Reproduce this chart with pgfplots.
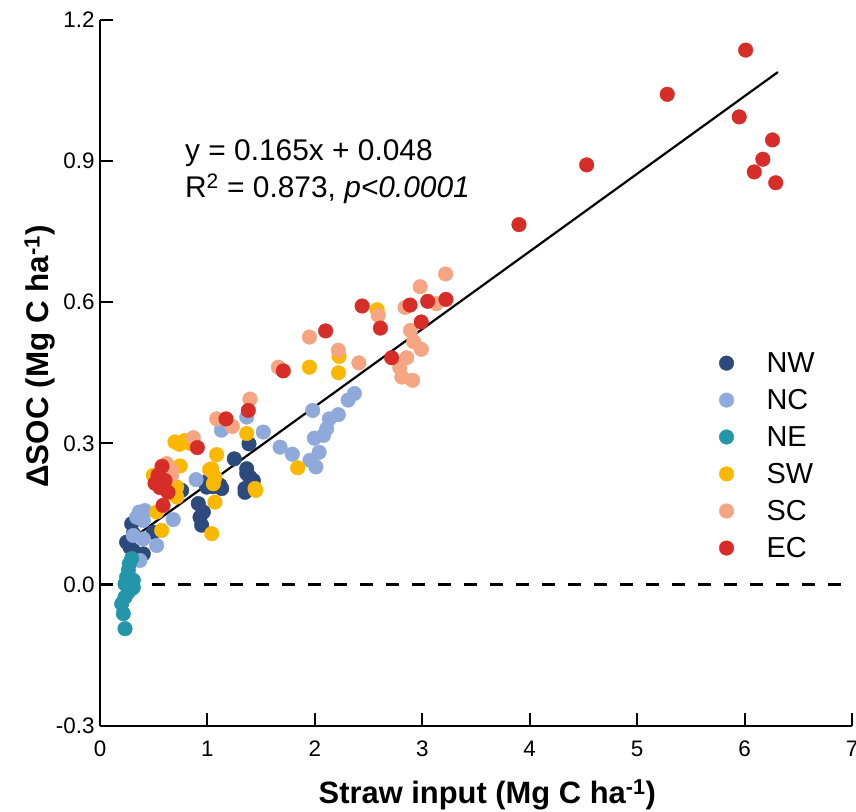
\documentclass[border=0pt]{standalone}
\usepackage{fontspec}
\setmainfont{Liberation Sans}
\usepackage{pgfplots}
\pgfplotsset{compat=1.18}
\definecolor{cNW}{RGB}{44,74,124}
\definecolor{cNC}{RGB}{143,170,218}
\definecolor{cNE}{RGB}{35,150,170}
\definecolor{cSW}{RGB}{250,185,0}
\definecolor{cSC}{RGB}{245,165,130}
\definecolor{cEC}{RGB}{215,45,40}
\begin{document}
\begin{tikzpicture}
\begin{axis}[
  width=752bp, height=705.6bp, scale only axis,
  xmin=0, xmax=7, ymin=-0.3, ymax=1.2,
  axis lines=left, axis line style={-, line width=2bp, black},
  xtick={0,1,2,3,4,5,6,7}, xticklabels={0,1,2,3,4,5,6,7},
  ytick={-0.3,0,0.3,0.6,0.9,1.2}, yticklabels={-0.3,0.0,0.3,0.6,0.9,1.2},
  tick align=inside, major tick length=13bp,
  tick style={line width=2bp, black},
  tick label style={font=\fontsize{22.5}{26}\selectfont, black},
  xticklabel style={yshift=-12bp},
  yticklabel style={xshift=-2bp},
  xlabel={\textbf{Straw input (Mg C ha\textsuperscript{-1})}},
  ylabel={\textbf{ΔSOC (Mg C ha\textsuperscript{-1})}},
  xlabel style={font=\fontsize{31}{36}\selectfont, at={(axis description cs:0.515,-0.098)}, anchor=center},
  ylabel style={font=\fontsize{31.5}{36}\selectfont, at={(axis description cs:-0.08,0.523)}, anchor=center},
  legend style={at={(axis cs:5.728,0.50)}, anchor=north west, draw=none, fill=none,
    font=\fontsize{29}{34}\selectfont, row sep=13.4bp, nodes={inner sep=1bp}},
  legend cell align=left,
  legend image code/.code={\path[draw=none, fill=none] (-8bp,0bp) rectangle (39bp,0.1bp); \draw[#1] plot coordinates {(0bp,0bp)};},
  clip=false,
]
\coordinate (BL) at (rel axis cs:0,0);
\coordinate (TR) at (rel axis cs:1,1);
\addplot[forget plot, black, line width=2.2bp, dash pattern=on 13bp off 13bp] coordinates {(0,0) (7,0)};
\addplot[only marks, mark=*, mark size=7.3bp, color=cNW, mark options={draw=none, fill=cNW}] coordinates {
(1.387,0.299)(1.25,0.267)(1.366,0.246)(1.396,0.228)(1.427,0.221)(1.35,0.204)(1.008,0.221)(1.055,0.208)(1.133,0.204)(0.76,0.2)(0.915,0.172)(0.962,0.154)(0.931,0.143)(0.946,0.126)(0.993,0.207)(1.117,0.211)(1.366,0.236)(1.35,0.196)(0.295,0.129)(0.31,0.108)(0.248,0.09)(0.279,0.079)(0.31,0.072)(0.403,0.065)(0.496,0.111)(0.993,0.218)
};
\addlegendentry{NW}
\addplot[only marks, mark=*, mark size=7.3bp, color=cNC, mark options={draw=none, fill=cNC}] coordinates {
(2.368,0.406)(2.31,0.392)(2.218,0.361)(2.135,0.352)(2.11,0.331)(2.08,0.317)(1.995,0.311)(1.98,0.370)(1.676,0.292)(1.79,0.277)(2.04,0.281)(1.955,0.264)(2.01,0.250)(1.52,0.324)(1.366,0.356)(1.13,0.328)(0.894,0.223)(0.366,0.154)(0.419,0.157)(0.341,0.143)(0.403,0.136)(0.403,0.097)(0.372,0.051)(0.527,0.083)(0.682,0.138)(0.31,0.104)
};
\addlegendentry{NC}
\addplot[only marks, mark=*, mark size=7.3bp, color=cNE, mark options={draw=none, fill=cNE}] coordinates {
(0.233,-0.094)(0.217,-0.062)(0.202,-0.041)(0.233,-0.027)(0.264,-0.016)(0.295,-0.009)(0.233,0.001)(0.248,0.016)(0.264,0.030)(0.273,0.044)(0.295,0.055)(0.31,0.009)(0.31,-0.006)
};
\addlegendentry{NE}
\addplot[only marks, mark=*, mark size=7.3bp, color=cSW, mark options={draw=none, fill=cSW}] coordinates {
(2.58,0.584)(2.225,0.485)(1.949,0.462)(2.22,0.450)(1.84,0.248)(1.366,0.321)(1.086,0.276)(1.04,0.246)(1.07,0.228)(0.745,0.252)(0.698,0.303)(0.79,0.306)(0.74,0.298)(0.84,0.30)(1.02,0.244)(1.45,0.2)(0.496,0.232)(0.714,0.186)(0.574,0.115)(0.527,0.154)(1.04,0.108)(1.07,0.175)(1.443,0.204)(1.055,0.214)(0.527,0.228)(0.714,0.207)(0.62,0.21)
};
\addlegendentry{SW}
\addplot[only marks, mark=*, mark size=7.3bp, color=cSC, mark options={draw=none, fill=cSC}] coordinates {
(3.217,0.660)(2.98,0.633)(2.84,0.589)(3.13,0.597)(2.89,0.540)(2.92,0.516)(2.99,0.500)(2.855,0.482)(2.79,0.461)(2.81,0.441)(2.91,0.434)(2.59,0.572)(1.949,0.526)(2.218,0.498)(2.41,0.471)(1.66,0.462)(1.396,0.394)(1.086,0.352)(1.232,0.336)(0.869,0.312)(0.62,0.257)(0.667,0.243)(0.667,0.232)
};
\addlegendentry{SC}
\addplot[only marks, mark=*, mark size=7.3bp, color=cEC, mark options={draw=none, fill=cEC}] coordinates {
(6.01,1.136)(5.28,1.042)(5.95,0.994)(6.26,0.945)(6.17,0.904)(6.09,0.877)(6.29,0.854)(4.53,0.892)(3.90,0.765)(2.886,0.594)(3.05,0.602)(3.22,0.606)(2.99,0.558)(2.61,0.545)(2.715,0.482)(2.44,0.592)(2.10,0.539)(1.706,0.454)(1.38,0.370)(1.173,0.352)(0.906,0.291)(0.577,0.251)(0.54,0.232)(0.605,0.221)(0.558,0.206)(0.633,0.196)(0.512,0.215)(0.587,0.168)
};
\addlegendentry{EC}
\addplot[forget plot, black, line width=2.2bp] coordinates {(0.21,0.0827) (6.31,1.0892)};
\node[anchor=base west, font=\fontsize{30}{35}\selectfont] at (axis cs:0.76,0.902) {y = 0.165x + 0.048};
\node[anchor=base west, font=\fontsize{30}{35}\selectfont] at (axis cs:0.76,0.823) {R\textsuperscript{2} = 0.873, \textit{p<0.0001}};
\end{axis}
\pgfresetboundingbox
\path[use as bounding box] ([xshift=-100bp,yshift=-86.4bp]BL) rectangle ([xshift=4bp,yshift=20bp]TR);
\end{tikzpicture}
\end{document}
